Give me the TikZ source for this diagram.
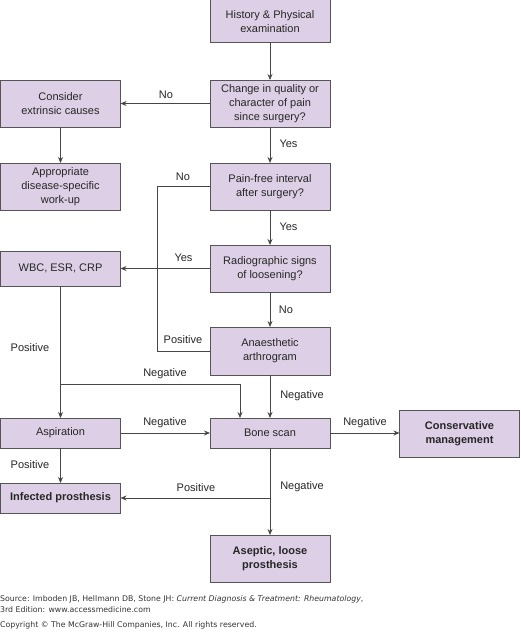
\documentclass[tikz,border=0pt]{standalone}
\usepackage{fontspec}
\setmainfont{Liberation Sans}
\newfontfamily\footfont{DejaVu Sans}
\usetikzlibrary{arrows.meta,calc}
\definecolor{boxfill}{RGB}{221,208,230}
\definecolor{boxline}{RGB}{85,85,85}
\definecolor{linecol}{RGB}{70,70,70}
\tikzset{
  x=1pt,y=-1pt,
  box/.style={draw=boxline,fill=boxfill,line width=1pt,minimum width=120pt,align=center,
    inner sep=2pt,outer sep=0pt,font=\fontsize{11}{14}\selectfont,text=black!85},
  boldbox/.style={box,font=\fontsize{11}{14}\selectfont\bfseries},
  conn/.style={draw=linecol,line width=0.8pt},
  arr/.style={conn,-{Stealth[length=6pt,width=5pt]}},
  lab/.style={font=\fontsize{11}{13}\selectfont,text=black!85,inner sep=0pt},
  foot/.style={font=\footfont\fontsize{7.8}{9}\selectfont,anchor=west,inner sep=0pt,text=black!80}
}
\begin{document}
\begin{tikzpicture}
\useasboundingbox (0,0) rectangle (520,634);
% boxes
\node[box,minimum height=43pt] (hist) at (270,21.5) {History \& Physical\\examination};
\node[box,minimum height=47pt] (change) at (270,103.5) {Change in quality or\\character of pain\\since surgery?};
\node[box,minimum height=47pt] (consider) at (60.5,103.5) {Consider\\extrinsic causes};
\node[box,minimum height=47pt] (approp) at (60.5,186.5) {Appropriate\\disease-specific\\work-up};
\node[box,minimum height=47pt] (painfree) at (270,186.5) {Pain-free interval\\after surgery?};
\node[box,minimum height=47pt] (radio) at (270,268.5) {Radiographic signs\\of loosening?};
\node[box,minimum height=35pt] (wbc) at (60.5,268.5) {WBC, ESR, CRP};
\node[box,minimum height=48pt] (anaes) at (270,351) {Anaesthetic\\arthrogram};
\node[box,minimum height=30pt] (asp) at (60.5,433) {Aspiration};
\node[box,minimum height=30pt] (bone) at (270,433) {Bone scan};
\node[boldbox,minimum height=47pt] (cons) at (459.5,433.5) {Conservative\\management};
\node[boldbox,minimum height=30pt] (inf) at (60.5,498) {Infected prosthesis};
\node[boldbox,minimum height=47pt] (asep) at (270,558.5) {Aseptic, loose\\prosthesis};
% helper coordinates
\coordinate (nA) at (157,186.5);
\coordinate (nB) at (157,351);
\coordinate (br1) at (60.5,384);
\coordinate (br1b) at (240,384);
\coordinate (bn) at (240,418);
\coordinate (br2) at (270,498);
% connectors
\draw[arr] (hist) -- (change);
\draw[arr] (change) -- (consider);
\draw[arr] (change) -- (painfree);
\draw[arr] (consider) -- (approp);
\draw[arr] (painfree) -- (radio);
\draw[conn] (painfree.west) -- (nA) -- (nB) -- (anaes.west);
\draw[arr] (radio) -- (wbc);
\draw[arr] (radio) -- (anaes);
\draw[arr] (wbc) -- (asp);
\draw[arr] (br1) -- (br1b) -- (bn);
\draw[arr] (anaes) -- (bone);
\draw[arr] (asp) -- (bone);
\draw[arr] (bone.east) -- (cons.west |- bone.east);
\draw[arr] (asp) -- (inf);
\draw[arr] (bone) -- (asep);
\draw[arr] (br2) -- (inf.east);
% labels
\node[lab] (lNo1) at (166,95) {No};
\node[lab] (lYes1) at (288.5,144) {Yes};
\node[lab] (lYes2) at (288.5,227) {Yes};
\node[lab] (lNo2) at (183,176.5) {No};
\node[lab] (lYes3) at (183.5,258) {Yes};
\node[lab] (lNo3) at (286,310) {No};
\node[lab] (lPos1) at (183,340) {Positive};
\node[lab] (lPos2) at (30,348) {Positive};
\node[lab] (lNeg1) at (165,374) {Negative};
\node[lab] (lNeg2) at (302,396) {Negative};
\node[lab] (lNeg3) at (165,423) {Negative};
\node[lab] (lNeg4) at (365,423) {Negative};
\node[lab] (lPos3) at (30,465) {Positive};
\node[lab] (lPos4) at (196,488) {Positive};
\node[lab] (lNeg5) at (302,487) {Negative};
% footer
\node[foot] (f1) at (0,599.5) {Source: Imboden JB, Hellmann DB, Stone JH: \textit{Current Diagnosis \& Treatment: Rheumatology},};
\node[foot] (f2) at (0,609.5) {3rd Edition: www.accessmedicine.com};
\node[foot] (f3) at (0,625) {Copyright \textcopyright{} The McGraw-Hill Companies, Inc. All rights reserved.};
\end{tikzpicture}
\end{document}
